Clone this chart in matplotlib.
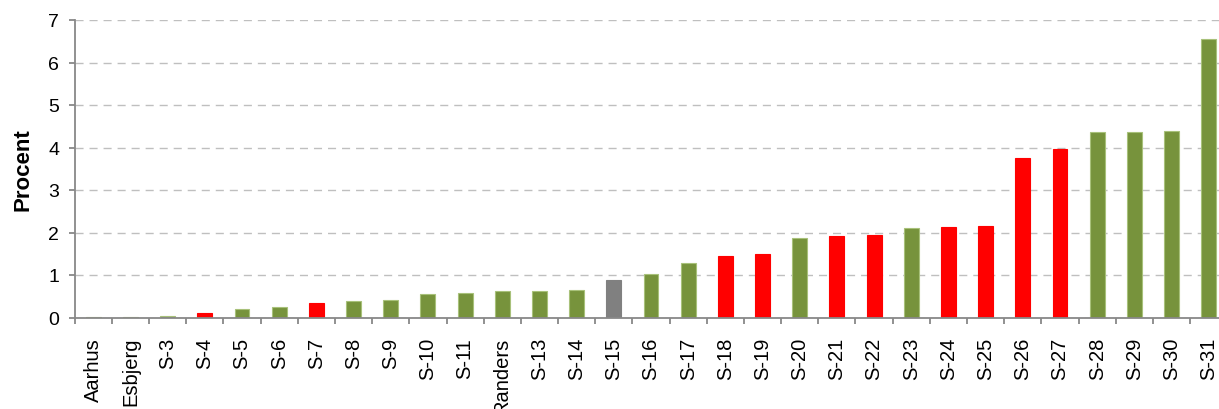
import matplotlib
matplotlib.use("Agg")
import matplotlib.pyplot as plt
import numpy as np

categories = ["Aarhus", "Esbjerg", "S-3", "S-4", "S-5", "S-6", "S-7", "S-8", "S-9", "S-10",
              "S-11", "Randers", "S-13", "S-14", "S-15", "S-16", "S-17", "S-18", "S-19", "S-20",
              "S-21", "S-22", "S-23", "S-24", "S-25", "S-26", "S-27", "S-28", "S-29", "S-30", "S-31"]
values = [0.01, 0.02, 0.04, 0.11, 0.20, 0.24, 0.35, 0.38, 0.42, 0.55,
          0.57, 0.62, 0.63, 0.65, 0.88, 1.02, 1.28, 1.45, 1.49, 1.87,
          1.92, 1.94, 2.11, 2.13, 2.15, 3.76, 3.97, 4.36, 4.37, 4.39, 6.55]
groups = ["g", "g", "g", "r", "g", "g", "r", "g", "g", "g",
          "g", "g", "g", "g", "k", "g", "g", "r", "r", "g",
          "r", "r", "g", "r", "r", "r", "r", "g", "g", "g", "g"]

fill = {"g": "#77933C", "r": "#FF0000", "k": "#808080"}
edge = {"g": "#A8C17A", "r": "#FF0000", "k": "#808080"}

plt.rcParams['font.family'] = ['Liberation Sans', 'DejaVu Sans']

W, H = 1219, 410
fig = plt.figure(figsize=(W / 100, H / 100), dpi=100)
left, right, bottom, top = 74.7, 1227.3, 318.5, 21.0
ax = fig.add_axes([left / W, 1 - bottom / H, (right - left) / W, (bottom - top) / H])

x = np.arange(len(categories))
ax.bar(x, values, width=0.40,
       color=[fill[g] for g in groups],
       edgecolor=[edge[g] for g in groups], linewidth=0.8, zorder=3)

ax.set_xlim(-0.5, len(categories) - 0.5)
ax.set_ylim(0, 7)
ax.set_yticks(range(0, 8))
ax.yaxis.grid(True, color="#BFBFBF", linewidth=1.0, linestyle=(0, (5.8, 4.3)), zorder=0)
ax.set_axisbelow(True)

ax.set_xticks(x)
ax.set_xticklabels(categories, rotation=90, fontsize=14.5, va='top')
ax.tick_params(axis='x', which='major', length=0, pad=14)
ax.set_xticks(np.arange(-0.5, len(categories) + 0.5, 1), minor=True)
ax.tick_params(axis='x', which='minor', length=4.3, width=1.3, color="#888888", direction='out')
ax.tick_params(axis='y', length=4.3, width=1.3, color="#888888", labelsize=14, pad=7)

for s in ['top', 'right']:
    ax.spines[s].set_visible(False)
for s in ['left', 'bottom']:
    ax.spines[s].set_color("#888888")
    ax.spines[s].set_linewidth(1.3)
ax.spines['bottom'].set_zorder(4)

fig.text(22.5 / W, 1 - 170 / H, "Procent", rotation=90, ha='center', va='center',
         fontsize=16, fontweight='bold')

fig.savefig("out.png", dpi=100)
